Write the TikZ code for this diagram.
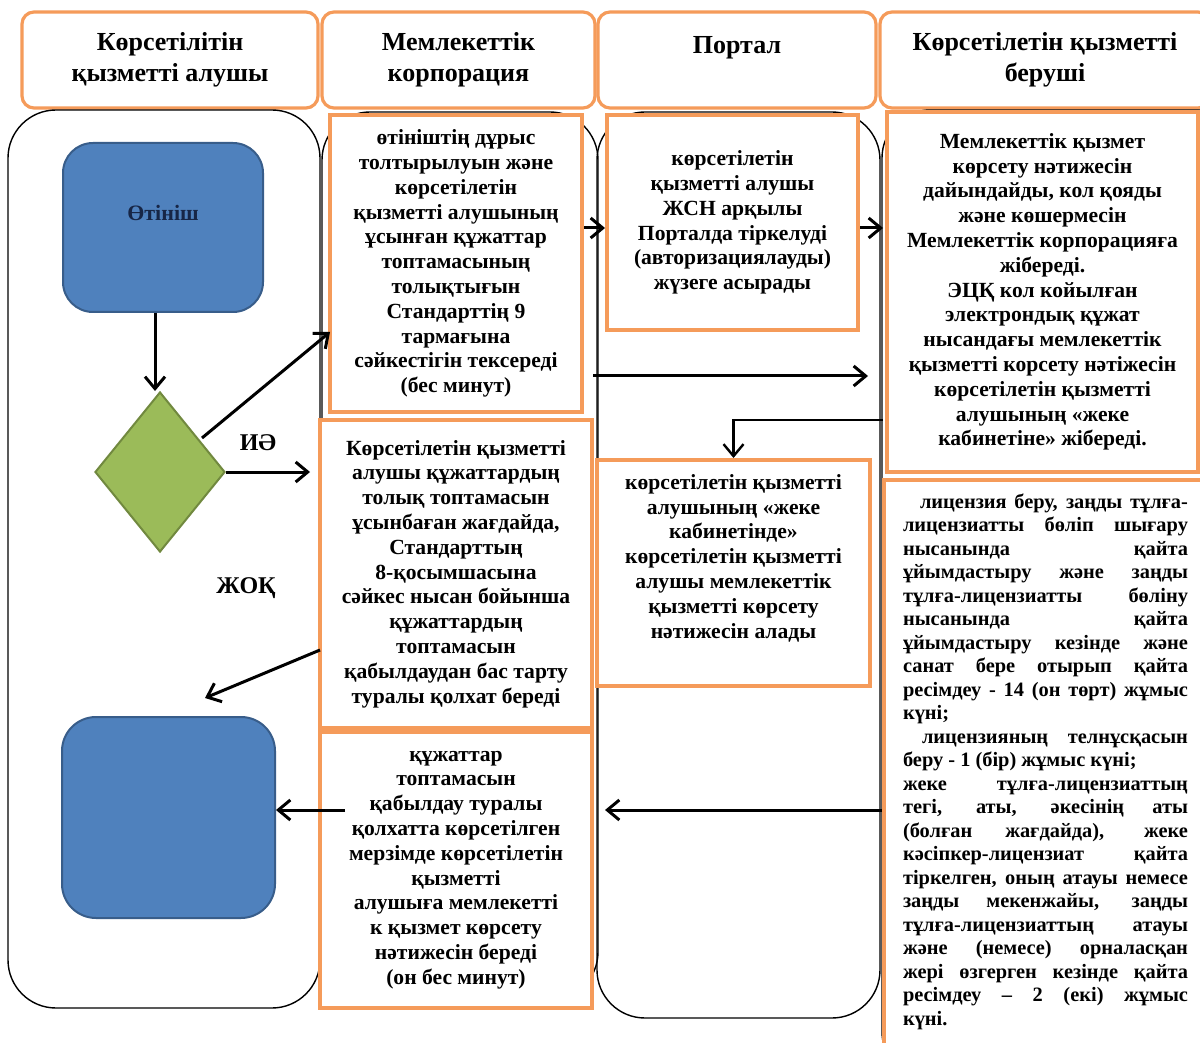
\documentclass[tikz,border=0pt]{standalone}
\usepackage{fontspec}
\setmainfont{Liberation Serif}
\usetikzlibrary{shapes.geometric,arrows.meta,calc}
\definecolor{orng}{RGB}{245,155,90}
\definecolor{bluef}{RGB}{79,129,189}
\definecolor{blued}{RGB}{56,93,138}
\definecolor{greenf}{RGB}{155,187,89}
\definecolor{greend}{RGB}{113,137,63}
\definecolor{navy}{RGB}{23,38,70}
\tikzset{
  hdr/.style={draw=orng, line width=1.6pt, rounded corners=6pt, fill=white, align=center,
    font=\fontsize{13}{15.5}\selectfont\bfseries, inner sep=0pt},
  obox/.style={draw=orng, line width=2pt, fill=white, inner sep=0pt, align=center,
    font=\fontsize{10.8}{12.4}\selectfont\bfseries},
  btxt/.style={align=center, font=\fontsize{10.8}{12.4}\selectfont\bfseries, inner sep=0pt},
  lane/.style={draw=black, line width=0.7pt, rounded corners=24pt},
  arr/.style={-{Straight Barb[length=6pt,width=10pt]}, line width=1.5pt},
  lbl/.style={font=\fontsize{12}{14}\selectfont\bfseries, inner sep=0pt},
  bluebox/.style={draw=blued, fill=bluef, line width=1pt, inner sep=0pt}
}
\newcommand{\jline}[1]{\makebox[142.5pt][s]{#1}}
\newcommand{\lline}[1]{\makebox[142.5pt][l]{#1}}
\begin{document}
\begin{tikzpicture}[x=0.5pt,y=-0.5pt]
\useasboundingbox (0,0) rectangle (1200,1043);
\fill[white] (0,0) rectangle (1200,1043);
% headers
\node[hdr, minimum width=148pt, minimum height=48pt] (h1) at (170,60) {Көрсетілітін\\қызметті алушы};
\node[hdr, minimum width=136.5pt, minimum height=48pt] (h2) at (458.5,60) {Мемлекеттік\\корпорация};
\node[hdr, minimum width=139pt, minimum height=48pt] (h3) at (737,60) {Портал\\{}};
\node[hdr, minimum width=165pt, minimum height=48pt] (h4) at (1045,60) {Көрсетілетін қызметті\\беруші};
% lanes
\draw[lane] (8,110) rectangle (320,1008);
\draw[lane] (322,112) rectangle (598,1000);
\draw[lane] (597,112) rectangle (880,1018);
\draw[lane] (882,110) rectangle (1260,1080);
% left lane shapes
\node[bluebox, rounded corners=15pt, minimum width=100pt, minimum height=84.5pt] (blue1) at (163,227.5) {};
\node[font=\fontsize{11}{13}\selectfont\bfseries, text=navy, inner sep=0pt] (t1) at (163,213) {Өтініш};
\node[diamond, draw=greend, fill=greenf, line width=1pt, minimum width=65pt, minimum height=80pt, inner sep=0pt] (dia) at (160,472) {};
\node[bluebox, rounded corners=17pt, minimum width=106.5pt, minimum height=100.5pt] (blue2) at (168.5,817.5) {};
\node[lbl] (yes) at (258,443) {ИӘ};
\node[lbl] (no) at (246,588) {ЖОҚ};
% boxes
\node[obox, minimum width=126pt, minimum height=148.5pt] (A) at (456,263.5)
 {өтініштің дұрыс\\толтырылуын және\\көрсетілетін\\қызметті алушының\\ұсынған құжаттар\\топтамасының\\толықтығын\\Стандарттің 9\\тармағына\\сәйкестігін тексереді\\(бес минут)};
\node[obox, minimum width=136pt, minimum height=154pt] (B) at (456,574)
 {Көрсетілетін қызметті\\алушы құжаттардың\\толық топтамасын\\ұсынбаған жағдайда,\\Стандарттың\\8-қосымшасына\\сәйкес нысан  бойынша\\құжаттардың\\топтамасын\\қабылдаудан  бас тарту\\туралы қолхат береді};
\node[obox, minimum width=136pt, minimum height=138pt] (C) at (456,870)
 {құжаттар\\топтамасын\\қабылдау туралы\\қолхатта көрсетілген\\мерзімде көрсетілетін\\қызметті\\алушыға мемлекетті\\к қызмет көрсету\\нәтижесін береді\\(он бес минут)};
\node[obox, minimum width=125.5pt, minimum height=107.5pt] (D) at (732.5,222.5)
 {көрсетілетін\\қызметті алушы\\ЖСН арқылы\\Порталда тіркелуді\\(авторизациялауды)\\жүзеге асырады};
\node[obox, minimum width=136.5pt, minimum height=113pt] (E) at (733.5,573) {};
\node[btxt] (Et) at (733.5,558)
 {көрсетілетін қызметті\\алушының «жеке\\кабинетінде»\\көрсетілетін қызметті\\алушы мемлекеттік\\қызметті көрсету\\нәтижесін алады};
\node[obox, minimum width=155.5pt, minimum height=180pt] (F) at (1042.5,292)
 {Мемлекеттік қызмет\\көрсету нәтижесін\\дайындайды, кол қояды\\және көшермесін\\Мемлекеттік корпорацияға\\жібереді.\\ЭЦҚ  кол койылған\\электрондық құжат\\нысандағы мемлекеттік\\қызметті корсету нәтіжесін\\көрсетілетін қызметті\\алушының «жеке\\кабинетіне» жібереді.};
\node[obox, minimum width=170pt, minimum height=283pt] (G) at (1054,762.5) {};
\node[inner sep=0pt, align=left, font=\fontsize{10.2}{11.75}\selectfont\bfseries] (Gt) at (1045.5,761.5)
 {\jline{\hspace*{8.5pt}лицензия беру, заңды тұлға-}\\
  \jline{лицензиатты бөліп шығару}\\
  \jline{нысанында қайта}\\
  \jline{ұйымдастыру және заңды}\\
  \jline{тұлға-лицензиатты бөліну}\\
  \jline{нысанында қайта}\\
  \jline{ұйымдастыру кезінде және}\\
  \jline{санат бере отырып қайта}\\
  \jline{ресімдеу - 14 (он төрт) жұмыс}\\
  \lline{күні;}\\
  \jline{\hspace*{9.5pt}лицензияның телнұсқасын}\\
  \lline{беру - 1 (бір) жұмыс күні;}\\
  \jline{жеке тұлға-лицензиаттың}\\
  \jline{тегі, аты, әкесінің аты}\\
  \jline{(болған жағдайда), жеке}\\
  \jline{кәсіпкер-лицензиат қайта}\\
  \jline{тіркелген, оның атауы немесе}\\
  \jline{заңды мекенжайы, заңды}\\
  \jline{тұлға-лицензиаттың атауы}\\
  \jline{және (немесе) орналасқан}\\
  \jline{жері өзгерген кезінде қайта}\\
  \jline{ресімдеу – 2 (екі) жұмыс}\\
  \lline{күні.}};
% connectors
\coordinate (yS) at (202,438);
\coordinate (yE) at (330,332);
\coordinate (nS) at (320,650);
\coordinate (nE) at (205,698);
\coordinate (r1) at (0,228);
\coordinate (m1) at (593,376);
\coordinate (m2) at (868,376);
\coordinate (c8) at (883,420);
\coordinate (r2) at (0,810);
\coordinate (c9) at (605,810);
\coordinate (c10) at (345,810);
\draw[arr] (blue1.south -| 155,0) -- (dia.north -| 155,0);
\draw[arr] (yS) -- (yE);
\draw[arr, shorten >=4pt] (dia.east) -- (dia.east -| B.west);
\draw[arr] (nS) -- (nE);
\draw[arr] (A.east |- r1) -- (D.west |- r1);
\draw[arr, shorten >=1pt] (D.east |- r1) -- (F.west |- r1);
\draw[arr] (m1) -- (m2);
\draw[arr, line width=1.2pt] (c8) -| (E.north);
\draw[arr] (G.west |- r2) -- (c9);
\draw[arr] (c10) -- (blue2.east |- r2);
\end{tikzpicture}
\end{document}
